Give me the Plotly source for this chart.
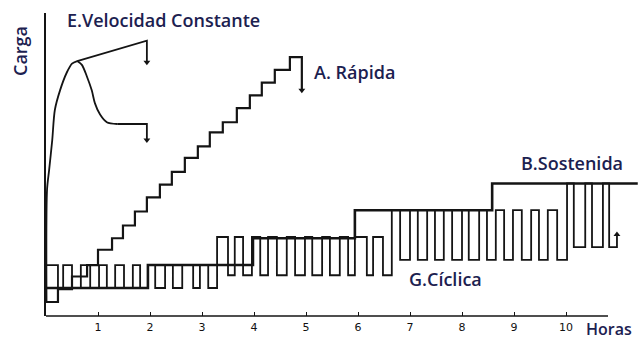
import plotly.graph_objects as go

# ---- data (hours, load units) ----
hours_ticks = [1, 2, 3, 4, 5, 6, 7, 8, 9, 10]
tick_labels = ["1", "2", "3", "4", "5", "6", "7", "8", "9", "10"]

# A. Rápida (stepped, quick maintained load)
A_t = [0.00, 0.23, 0.50, 0.79, 1.00, 1.27, 1.48, 1.71, 1.94, 2.19, 2.42, 2.67,
       2.92, 3.15, 3.40, 3.67, 3.92, 4.15, 4.40, 4.69, 4.92, 4.92]
A_load = [0.0, 1.0, 2.0, 2.9, 4.1, 5.0, 6.0, 7.1, 8.2, 9.2, 10.2, 11.3,
          12.2, 13.3, 14.1, 15.2, 16.2, 17.2, 18.2, 19.2, 19.2, 16.6]

# B. Sostenida (sustained load)
B_t = [0.00, 1.96, 3.98, 5.94, 8.58, 11.38]
B_load = [1.1, 2.9, 5.0, 7.2, 9.3, 9.3]

# G. Cíclica (cyclic load)
G_t = [0.00, 0.23, 0.33, 0.50, 0.67, 0.85, 1.02, 1.17, 1.33, 1.50, 1.67, 1.81,
       1.96, 2.10, 2.29, 2.44, 2.62, 2.83, 2.96, 3.12,
       3.29, 3.50, 3.63, 3.79, 3.96, 4.12, 4.27, 4.44, 4.63, 4.79, 4.98, 5.12,
       5.31, 5.46, 5.65, 5.81, 5.94, 6.17, 6.29, 6.48,
       6.65, 6.81, 7.00, 7.15, 7.33, 7.48, 7.65, 7.81, 8.00, 8.13, 8.33, 8.48,
       8.65, 8.81, 8.98, 9.15, 9.33, 9.48, 9.65, 9.83,
       10.02, 10.15, 10.37, 10.50, 10.71, 10.83, 10.98, 10.98]
G_load = [2.9, 1.1, 2.9, 1.1, 2.9, 1.1, 2.9, 1.1, 2.9, 1.1, 2.9, 1.1,
          2.9, 1.1, 2.9, 1.1, 2.9, 1.1, 2.9, 1.1,
          5.1, 2.1, 5.1, 2.1, 5.1, 2.1, 5.1, 2.1, 5.1, 2.1, 5.1, 2.1,
          5.1, 2.1, 5.1, 2.1, 5.1, 2.1, 5.1, 2.1,
          7.2, 3.3, 7.2, 3.3, 7.2, 3.3, 7.2, 3.3, 7.2, 3.3, 7.2, 3.3,
          7.2, 3.3, 7.2, 3.3, 7.2, 3.3, 7.2, 3.3,
          9.3, 4.3, 9.3, 4.3, 9.3, 4.3, 4.3, 5.3]

# E. Velocidad Constante (constant rate of penetration)
E_rise_t = [0.01, 0.02, 0.06, 0.12, 0.17, 0.27, 0.40, 0.50, 0.60]
E_rise_load = [0.0, 8.8, 10.35, 12.7, 15.06, 16.6, 18.0, 18.7, 18.9]
E_up_t = [0.60, 1.94, 1.94]
E_up_load = [18.9, 20.5, 18.8]
E_down_t = [0.60, 0.69, 0.79, 0.88, 0.94, 1.04, 1.17, 1.37, 1.94, 1.94]
E_down_load = [18.9, 18.6, 17.65, 16.6, 15.6, 14.7, 14.1, 13.96, 13.96, 12.7]

INK = "#141414"
TXT = "#1c2150"
FONT = "Open Sans"

fig = go.Figure()

fig.add_trace(go.Scatter(x=G_t, y=G_load, mode="lines", line_shape="hv",
                         line=dict(color=INK, width=1.8), showlegend=False))
fig.add_trace(go.Scatter(x=B_t, y=B_load, mode="lines", line_shape="hv",
                         line=dict(color=INK, width=2.6), showlegend=False))
fig.add_trace(go.Scatter(x=A_t, y=A_load, mode="lines", line_shape="hv",
                         line=dict(color=INK, width=2.2), showlegend=False))
fig.add_trace(go.Scatter(x=E_rise_t, y=E_rise_load, mode="lines", line_shape="spline",
                         line=dict(color=INK, width=1.8, smoothing=0.8), showlegend=False))
fig.add_trace(go.Scatter(x=E_up_t, y=E_up_load, mode="lines",
                         line=dict(color=INK, width=1.8), showlegend=False))
fig.add_trace(go.Scatter(x=E_down_t[:-2], y=E_down_load[:-2], mode="lines", line_shape="spline",
                         line=dict(color=INK, width=1.8, smoothing=0.8), showlegend=False))
fig.add_trace(go.Scatter(x=E_down_t[-3:], y=E_down_load[-3:], mode="lines",
                         line=dict(color=INK, width=1.8), showlegend=False))

# arrowheads
fig.add_trace(go.Scatter(x=[E_up_t[-1], E_down_t[-1], A_t[-1]],
                         y=[E_up_load[-1], E_down_load[-1], A_load[-1]],
                         mode="markers", marker=dict(symbol="triangle-down", size=6, color=INK),
                         showlegend=False))
fig.add_trace(go.Scatter(x=[G_t[-1]], y=[G_load[-1]],
                         mode="markers", marker=dict(symbol="triangle-up", size=6, color=INK),
                         showlegend=False))

W, H = 639, 339
L, R, T, B = 46, 0, 13, 23
pw, ph = W - L - R, H - T - B


def px(x):
    return (x - L) / pw


def py(y):
    return (H - B - y) / ph


ann = [
    dict(text="E.Velocidad Constante", x=px(65), y=py(20), xanchor="left"),
    dict(text="A. Rápida", x=px(312), y=py(72), xanchor="left"),
    dict(text="B.Sostenida", x=px(519), y=py(163), xanchor="left"),
    dict(text="G.Cíclica", x=px(407), y=py(279), xanchor="left"),
    dict(text="Horas", x=px(584), y=py(329), xanchor="left", font_size=16),
    dict(text="Carga", x=px(20), y=py(51), xanchor="center", textangle=-90),
]
annotations = []
for a in ann:
    d = dict(xref="paper", yref="paper", yanchor="middle", showarrow=False,
             font=dict(family=FONT, size=18, color=TXT, weight=600))
    fs = a.pop("font_size", None)
    d.update(a)
    if fs:
        d["font"]["size"] = fs
    annotations.append(d)

fig.update_layout(
    width=W, height=H,
    margin=dict(l=L, r=R, t=T, b=B, pad=0),
    paper_bgcolor="white", plot_bgcolor="white",
    annotations=annotations,
    shapes=[dict(type="line", xref="paper", yref="paper", x0=0, x1=px(608), y0=0, y1=0,
                 line=dict(color=INK, width=1.5))],
    xaxis=dict(range=[0, pw / 52.0], showline=False, showgrid=False, zeroline=False,
               tickvals=hours_ticks, ticktext=tick_labels, ticks="inside", ticklen=4,
               tickcolor=INK, tickwidth=1.2, ticklabelstandoff=3,
               tickfont=dict(family="DejaVu Sans", size=11, color="#111")),
    yaxis=dict(range=[-14 / 12.75, 289 / 12.75], showline=True, linecolor=INK, linewidth=1.8,
               showgrid=False, zeroline=False, showticklabels=False, ticks=""),
)

fig.write_html("out.html", config={"displayModeBar": False},
               post_script="document.body.style.margin='0px';")
